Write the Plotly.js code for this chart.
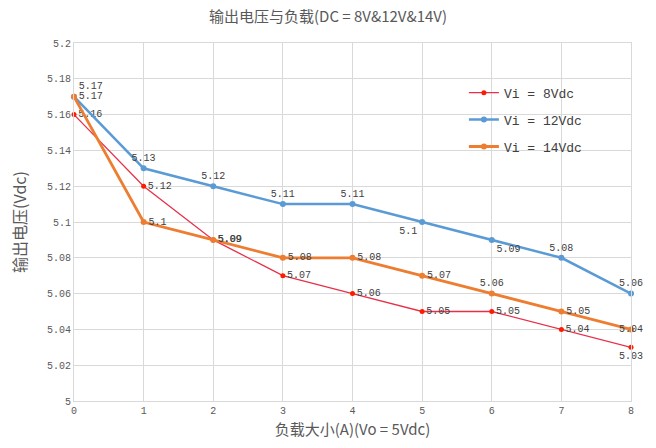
<!DOCTYPE html>
<html>
<head>
<meta charset="utf-8">
<script src="https://cdn.plot.ly/plotly-3.0.1.min.js"></script>
<style>html,body{margin:0;padding:0;background:#fff;}#chart{width:656px;height:448px;}</style>
</head>
<body>
<div id="chart"></div>
<script>
var loads = [0, 1, 2, 3, 4, 5, 6, 7, 8];
var vi8 = [5.16, 5.12, 5.09, 5.07, 5.06, 5.05, 5.05, 5.04, 5.03];
var vi12 = [5.17, 5.13, 5.12, 5.11, 5.11, 5.10, 5.09, 5.08, 5.06];
var vi14 = [5.17, 5.10, 5.09, 5.08, 5.08, 5.07, 5.06, 5.05, 5.04];
var seriesNames = ['Vi = 8Vdc', 'Vi = 12Vdc', 'Vi = 14Vdc'];
var yTickVals = [5, 5.02, 5.04, 5.06, 5.08, 5.1, 5.12, 5.14, 5.16, 5.18, 5.2];
var yTickText = ['5', '5.02', '5.04', '5.06', '5.08', '5.1', '5.12', '5.14', '5.16', '5.18', '5.2'];
var xTickVals = [0, 1, 2, 3, 4, 5, 6, 7, 8];

function lbl(arr) { return arr.map(function (v) { return String(+v.toFixed(2)); }); }

var mono = 'Liberation Mono, DejaVu Sans Mono, monospace';
var labelFont = {family: mono, size: 10, color: '#404040'};

var traces = [
  {
    x: loads, y: vi8, name: seriesNames[0], legendgroup: 'a', mode: 'lines+markers+text',
    line: {color: '#e8304a', width: 1.3},
    marker: {color: '#ff1a00', size: 5},
    text: lbl(vi8),
    textposition: ['middle right', 'middle right', 'middle right', 'middle right', 'middle right', 'middle right', 'middle right', 'middle right', 'bottom center'],
    textfont: labelFont, cliponaxis: false
  },
  {
    x: loads, y: vi12, name: seriesNames[1], legendgroup: 'b', mode: 'lines+markers+text',
    line: {color: '#5b9bd5', width: 2.5},
    marker: {color: '#5b9bd5', size: 6},
    text: lbl(vi12),
    textposition: ['middle right', 'top center', 'top center', 'top center', 'top center', 'bottom left', 'bottom right', 'top center', 'top center'],
    textfont: labelFont, cliponaxis: false
  },
  {
    x: loads, y: vi14, name: seriesNames[2], legendgroup: 'c', mode: 'lines+markers+text',
    line: {color: '#ed7d31', width: 2.8},
    marker: {color: '#ed7d31', size: 6},
    text: lbl(vi14),
    textposition: ['top right', 'middle right', 'middle right', 'middle right', 'middle right', 'middle right', 'top center', 'middle right', 'middle center'],
    textfont: labelFont, cliponaxis: false
  }
];

var layout = {
  width: 656, height: 448,
  margin: {l: 74, r: 25, t: 43, b: 47},
  paper_bgcolor: '#ffffff', plot_bgcolor: '#ffffff',
  title: {
    text: '输出电压与负载(DC = 8V&12V&14V)',
    x: 0.5, xanchor: 'center', y: 0.962, yanchor: 'middle',
    font: {family: 'Noto Sans CJK SC, sans-serif', size: 15, color: '#595959'}
  },
  xaxis: {
    range: [0, 8], tickvals: xTickVals, ticktext: xTickVals.map(String),
    showgrid: true, gridcolor: '#d9d9d9', gridwidth: 1,
    zeroline: false, showline: true, linecolor: '#d9d9d9', mirror: true,
    ticks: '', tickfont: {family: mono, size: 10, color: '#595959'},
    title: {text: '负载大小(A)(Vo = 5Vdc)', standoff: 8,
      font: {family: 'Noto Sans CJK SC, sans-serif', size: 15, color: '#595959'}}
  },
  yaxis: {
    range: [5, 5.2], tickvals: yTickVals, ticktext: yTickText,
    showgrid: true, gridcolor: '#d9d9d9', gridwidth: 1,
    zeroline: false, showline: true, linecolor: '#d9d9d9', mirror: true,
    ticks: '', tickfont: {family: mono, size: 10, color: '#595959'},
    title: {text: '输出电压(Vdc)', standoff: 16,
      font: {family: 'Noto Sans CJK SC, sans-serif', size: 16, color: '#595959'}}
  },
  showlegend: true,
  legend: {
    x: 0.7, y: 0.903, xanchor: 'left', yanchor: 'top',
    bgcolor: 'rgba(255,255,255,0)', borderwidth: 0,
    font: {family: mono, size: 13, color: '#404040'},
    tracegroupgap: 7, itemwidth: 30
  }
};

Plotly.newPlot('chart', traces, layout, {displayModeBar: false, staticPlot: true});
</script>
</body>
</html>
